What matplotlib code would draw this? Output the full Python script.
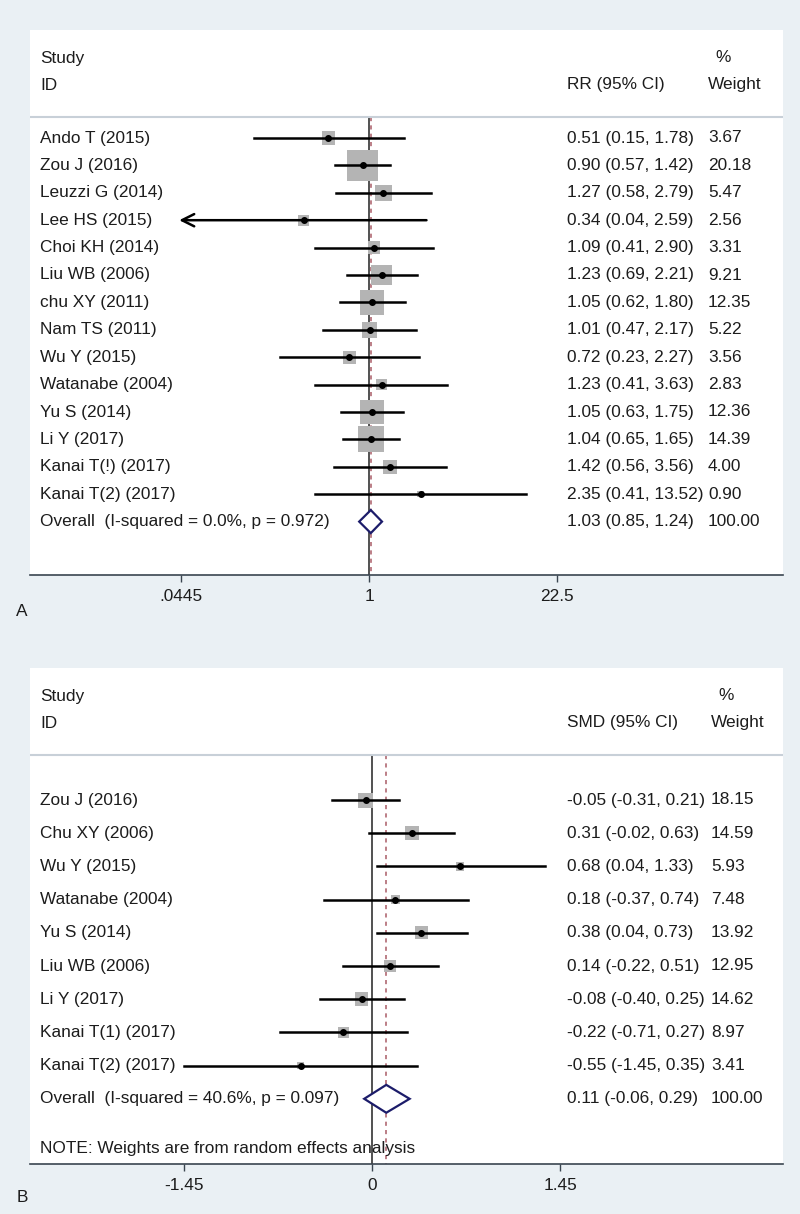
import numpy as np
import matplotlib
matplotlib.use("Agg")
import matplotlib.pyplot as plt
from matplotlib.patches import Polygon
from matplotlib.ticker import FixedLocator, FixedFormatter, NullLocator

plt.rcParams["font.family"] = ["Liberation Sans", "DejaVu Sans"]

# ---- Panel A: RR, fixed effects ----
a_study = ["Ando T (2015)", "Zou J (2016)", "Leuzzi G (2014)", "Lee HS (2015)",
           "Choi KH (2014)", "Liu WB (2006)", "chu XY (2011)", "Nam TS (2011)",
           "Wu Y (2015)", "Watanabe (2004)", "Yu S (2014)", "Li Y (2017)",
           "Kanai T(!) (2017)", "Kanai T(2) (2017)"]
a_est = [0.51, 0.90, 1.27, 0.34, 1.09, 1.23, 1.05, 1.01, 0.72, 1.23, 1.05, 1.04, 1.42, 2.35]
a_lo = [0.15, 0.57, 0.58, 0.04, 0.41, 0.69, 0.62, 0.47, 0.23, 0.41, 0.63, 0.65, 0.56, 0.41]
a_hi = [1.78, 1.42, 2.79, 2.59, 2.90, 2.21, 1.80, 2.17, 2.27, 3.63, 1.75, 1.65, 3.56, 13.52]
a_weight = [3.67, 20.18, 5.47, 2.56, 3.31, 9.21, 12.35, 5.22, 3.56, 2.83, 12.36, 14.39, 4.00, 0.90]
a_overall = [1.03, 0.85, 1.24]
a_overall_label = "Overall  (I-squared = 0.0%, p = 0.972)"
a_ticks = [0.0445, 1, 22.5]
a_tick_labels = [".0445", "1", "22.5"]

# ---- Panel B: SMD, random effects ----
b_study = ["Zou J (2016)", "Chu XY (2006)", "Wu Y (2015)", "Watanabe (2004)",
           "Yu S (2014)", "Liu WB (2006)", "Li Y (2017)", "Kanai T(1) (2017)",
           "Kanai T(2) (2017)"]
b_est = [-0.05, 0.31, 0.68, 0.18, 0.38, 0.14, -0.08, -0.22, -0.55]
b_lo = [-0.31, -0.02, 0.04, -0.37, 0.04, -0.22, -0.40, -0.71, -1.45]
b_hi = [0.21, 0.63, 1.33, 0.74, 0.73, 0.51, 0.25, 0.27, 0.35]
b_weight = [18.15, 14.59, 5.93, 7.48, 13.92, 12.95, 14.62, 8.97, 3.41]
b_overall = [0.11, -0.06, 0.29]
b_overall_label = "Overall  (I-squared = 40.6%, p = 0.097)"
b_note = "NOTE: Weights are from random effects analysis"
b_ticks = [-1.45, 0, 1.45]
b_tick_labels = ["-1.45", "0", "1.45"]

W, H = 800, 1214
BG = "#eaf0f4"
TXT = "#1c1c1c"
FS = 12.4

fig = plt.figure(figsize=(W / 100, H / 100), dpi=100, facecolor=BG)


def add_box(left, top, right, bottom):
    return fig.add_axes([left / W, 1 - bottom / H, (right - left) / W, (bottom - top) / H])


def px_frac(px, left=30, right=783):
    return (px - left) / (right - left)


def panel(ax, study, est, lo, hi, weight, overall, overall_label, effect_label,
          row0, row_h, top, bottom, box_scale, ref, log, xlim, ticks, tick_labels,
          wcol, note=None):
    n = len(study)
    to_row = lambda px: (px - row0) / row_h
    ax.set_facecolor("white")
    if log:
        ax.set_xscale("log")
    ax.set_xlim(*xlim)
    ax.set_ylim(to_row(bottom), to_row(top))
    for s in ["top", "left", "right"]:
        ax.spines[s].set_visible(False)
    ax.spines["bottom"].set_color("#3a4550")
    ax.spines["bottom"].set_linewidth(1.2)
    ax.yaxis.set_visible(False)
    ax.xaxis.set_major_locator(FixedLocator(ticks))
    ax.xaxis.set_major_formatter(FixedFormatter(tick_labels))
    ax.xaxis.set_minor_locator(NullLocator())
    ax.tick_params(axis="x", length=5, width=1, color="#3a4550", labelsize=FS,
                   labelcolor=TXT, pad=5)

    tr = ax.get_yaxis_transform()
    y_study, y_id, y_sep = to_row(top + 28), to_row(top + 55), to_row(top + 87)
    ax.text(px_frac(40), y_study, "Study", transform=tr, fontsize=FS, color=TXT, va="center")
    ax.text(px_frac(40), y_id, "ID", transform=tr, fontsize=FS, color=TXT, va="center")
    ax.text(px_frac(567), y_id, effect_label, transform=tr, fontsize=FS, color=TXT, va="center")
    ax.text(px_frac(wcol + 7), y_study, "%", transform=tr, fontsize=FS, color=TXT, va="center")
    ax.text(px_frac(wcol), y_id, "Weight", transform=tr, fontsize=FS, color=TXT, va="center")
    ax.axhline(y_sep, color="#c8d0d8", lw=1.5)

    y_bot = to_row(bottom)
    ax.vlines(ref, y_sep, y_bot, color="#333333", lw=1.2, zorder=1)
    ax.vlines(overall[0], y_sep, y_bot, color="#b06872", lw=1.2,
              linestyles=(0, (2.5, 2.5)), zorder=1)

    ys = np.arange(n)
    side_pt = box_scale * np.sqrt(np.array(weight) / max(weight)) * 0.72
    ax.scatter(est, ys, marker="s", s=side_pt ** 2, color="#b4b4b4", lw=0, zorder=2)
    xmin_clip = ticks[0]
    for i in range(n):
        if lo[i] < xmin_clip:
            ax.annotate("", xy=(xmin_clip * 0.97 if log else xmin_clip, i), xytext=(hi[i], i),
                        arrowprops=dict(arrowstyle="->", lw=1.8, color="black",
                                        mutation_scale=22, shrinkA=0, shrinkB=0),
                        zorder=3)
        else:
            ax.plot([lo[i], hi[i]], [i, i], color="black", lw=1.8, zorder=3)
    ax.plot(est, ys, "o", color="black", ms=4, zorder=4)

    for i in range(n):
        ax.text(px_frac(40), i, study[i], transform=tr, fontsize=FS, color=TXT, va="center")
        ax.text(px_frac(567), i, f"{est[i]:.2f} ({lo[i]:.2f}, {hi[i]:.2f})",
                transform=tr, fontsize=FS, color=TXT, va="center")
        ax.text(px_frac(wcol), i, f"{weight[i]:.2f}", transform=tr, fontsize=FS,
                color=TXT, va="center")

    yo = n
    e, l, h = overall
    dh = 0.42
    ax.add_patch(Polygon([(l, yo), (e, yo - dh), (h, yo), (e, yo + dh)], closed=True,
                         facecolor="white", edgecolor="#1c1c6a", lw=1.6, zorder=5))
    ax.text(px_frac(40), yo, overall_label, transform=tr, fontsize=FS, color=TXT, va="center")
    ax.text(px_frac(567), yo, f"{e:.2f} ({l:.2f}, {h:.2f})", transform=tr,
            fontsize=FS, color=TXT, va="center")
    ax.text(px_frac(wcol), yo, "100.00", transform=tr, fontsize=FS, color=TXT, va="center")
    if note:
        ax.text(px_frac(40), to_row(bottom - 16), note, transform=tr, fontsize=FS,
                color=TXT, va="center")


# Panel A (log scale): 1 sits at x=369 px, 60.4 px per ln unit
axA = add_box(30, 30, 783, 575)
a_xlim = (np.exp((30 - 369) / 60.4), np.exp((783 - 369) / 60.4))
panel(axA, a_study, a_est, a_lo, a_hi, a_weight, a_overall, a_overall_label,
      "RR (95% CI)", 138, 27.4, 30, 575, 31, 1, True, a_xlim, a_ticks, a_tick_labels,
      708)

# Panel B (linear): 0 at x=372 px, 129.7 px per unit
axB = add_box(30, 668, 783, 1164)
b_xlim = ((30 - 372) / 129.7, (783 - 372) / 129.7)
panel(axB, b_study, b_est, b_lo, b_hi, b_weight, b_overall, b_overall_label,
      "SMD (95% CI)", 800, 33.2, 668, 1164, 15, 0, False, b_xlim, b_ticks, b_tick_labels,
      711, note=b_note)

fig.text(22 / W, 1 - 612 / H, "A", fontsize=FS, color=TXT, ha="center", va="center")
fig.text(22 / W, 1 - 1198 / H, "B", fontsize=FS, color=TXT, ha="center", va="center")

fig.savefig("out.png", dpi=100, facecolor=BG)
